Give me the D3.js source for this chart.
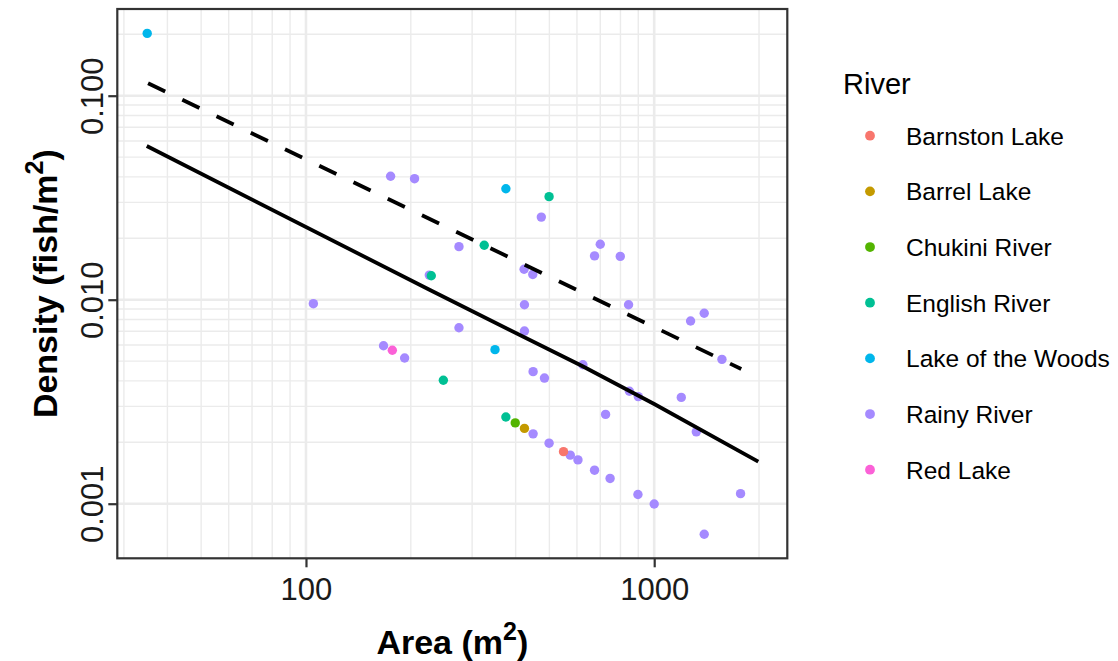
<!DOCTYPE html>
<html>
<head>
<meta charset="utf-8">
<script src="https://cdn.jsdelivr.net/npm/d3@7"></script>
<style>
  html, body { margin: 0; padding: 0; background: #ffffff; }
  svg { display: block; font-family: "Liberation Sans", Arial, sans-serif; }
</style>
</head>
<body>
<svg id="chart" width="1118" height="661"></svg>
<script>
// ---------------- data ----------------
const categories = ["Barnston Lake", "Barrel Lake", "Chukini River", "English River",
                    "Lake of the Woods", "Rainy River", "Red Lake"];
const categoryColors = ["#F8766D", "#C49A00", "#53B400", "#00C094", "#00B6EB", "#A58AFF", "#FB61D7"];

// points: area (m2), density (fish/m2), river
const rainyArea    = [175, 205, 226, 474, 275, 423, 448, 700, 674, 799, 105, 167, 192, 424, 275, 424,
                      449, 484, 624, 844, 1272, 1392, 1565, 849, 900, 1196, 725, 1321, 449, 499, 574,
                      604, 674, 747, 898, 1000, 1770, 1392];
const rainyDensity = [0.0403, 0.0392, 0.0132, 0.0254, 0.0182, 0.0141, 0.0133, 0.0187, 0.0164, 0.0163,
                      0.00956, 0.00595, 0.00518, 0.00945, 0.00729, 0.00702, 0.00444, 0.00413, 0.0048,
                      0.00945, 0.00786, 0.00858, 0.0051, 0.00356, 0.00335, 0.00332, 0.00274, 0.00225,
                      0.0022, 0.00198, 0.00173, 0.00164, 0.00146, 0.00133, 0.00111, 0.000997, 0.00112,
                      0.000708];
const woodsArea    = [35, 375, 349];
const woodsDensity = [0.202, 0.035, 0.00569];
const englishArea    = [229, 499, 325, 248, 375];
const englishDensity = [0.0131, 0.032, 0.0185, 0.00403, 0.00266];
const chukiniArea = [399],  chukiniDensity = [0.00249];
const barrelArea  = [424],  barrelDensity  = [0.00234];
const barnstonArea = [549], barnstonDensity = [0.0018];
const redArea     = [177],  redDensity     = [0.00565];

// fitted lines
const solidArea     = [34.9, 227, 621, 1000, 1990];
const solidDensity  = [0.0567, 0.01115, 0.00473, 0.00308, 0.001607];
const dashedArea    = [35.2, 1778];
const dashedDensity = [0.115, 0.004574];

// axes
const xDomain = [28.72, 2411];
const yDomain = [0.00054, 0.2661];
const xMajor = [100, 1000];
const xTickLabels = ["100", "1000"];
const xMinor = [30, 40, 50, 60, 70, 80, 90, 200, 300, 400, 500, 600, 700, 800, 900, 2000];
const yMajor = [0.001, 0.01, 0.1];
const yTickLabels = ["0.001", "0.010", "0.100"];
const yMinor = [0.002, 0.003, 0.004, 0.005, 0.006, 0.007, 0.008, 0.009,
                0.02, 0.03, 0.04, 0.05, 0.06, 0.07, 0.08, 0.09, 0.2];

// ---------------- build ----------------
const groups = [
  {river: "Rainy River", area: rainyArea, density: rainyDensity},
  {river: "Lake of the Woods", area: woodsArea, density: woodsDensity},
  {river: "English River", area: englishArea, density: englishDensity},
  {river: "Chukini River", area: chukiniArea, density: chukiniDensity},
  {river: "Barrel Lake", area: barrelArea, density: barrelDensity},
  {river: "Barnston Lake", area: barnstonArea, density: barnstonDensity},
  {river: "Red Lake", area: redArea, density: redDensity}
];
const points = [];
groups.forEach(g => g.area.forEach((a, i) => points.push({area: a, density: g.density[i], river: g.river})));

const panel = {left: 117.3, right: 787.3, top: 9, bottom: 558.3};
const svg = d3.select("#chart");

const x = d3.scaleLog().domain(xDomain).range([panel.left, panel.right]);
const y = d3.scaleLog().domain(yDomain).range([panel.bottom, panel.top]);
const color = d3.scaleOrdinal().domain(categories).range(categoryColors);

// grid
const grid = svg.append("g");
grid.selectAll("line.xmin").data(xMinor).join("line")
  .attr("x1", d => x(d)).attr("x2", d => x(d))
  .attr("y1", panel.top).attr("y2", panel.bottom)
  .attr("stroke", "#EBEBEB").attr("stroke-width", 1.4);
grid.selectAll("line.ymin").data(yMinor).join("line")
  .attr("y1", d => y(d)).attr("y2", d => y(d))
  .attr("x1", panel.left).attr("x2", panel.right)
  .attr("stroke", "#EBEBEB").attr("stroke-width", 1.4);
grid.selectAll("line.xmaj").data(xMajor).join("line")
  .attr("x1", d => x(d)).attr("x2", d => x(d))
  .attr("y1", panel.top).attr("y2", panel.bottom)
  .attr("stroke", "#EBEBEB").attr("stroke-width", 2.6);
grid.selectAll("line.ymaj").data(yMajor).join("line")
  .attr("y1", d => y(d)).attr("y2", d => y(d))
  .attr("x1", panel.left).attr("x2", panel.right)
  .attr("stroke", "#EBEBEB").attr("stroke-width", 2.6);

// points
svg.append("g").selectAll("circle").data(points).join("circle")
  .attr("cx", d => x(d.area)).attr("cy", d => y(d.density))
  .attr("r", 4.7).attr("fill", d => color(d.river));

// fitted lines
const lineGen = d3.line().x(d => x(d[0])).y(d => y(d[1]));
svg.append("path")
  .attr("d", lineGen(solidArea.map((a, i) => [a, solidDensity[i]])))
  .attr("fill", "none").attr("stroke", "#000").attr("stroke-width", 3.8);
svg.append("path")
  .attr("d", lineGen(dashedArea.map((a, i) => [a, dashedDensity[i]])))
  .attr("fill", "none").attr("stroke", "#000").attr("stroke-width", 3.8)
  .attr("stroke-dasharray", "19,19");

// panel border
svg.append("rect")
  .attr("x", panel.left).attr("y", panel.top)
  .attr("width", panel.right - panel.left).attr("height", panel.bottom - panel.top)
  .attr("fill", "none").attr("stroke", "#333333").attr("stroke-width", 2.2);

// x axis
const xAxis = d3.axisBottom(x).tickValues(xMajor)
  .tickFormat((d, i) => xTickLabels[i]).tickSize(9).tickPadding(10);
const gx = svg.append("g").attr("transform", `translate(0,${panel.bottom})`).call(xAxis);
gx.select(".domain").remove();
gx.selectAll(".tick line").attr("stroke", "#333333").attr("stroke-width", 2.2);
gx.selectAll(".tick text").attr("font-size", 31).attr("fill", "#1a1a1a")
  .attr("font-family", "Liberation Sans, Arial, sans-serif")
  .attr("dy", null).attr("y", 41.7);

// y axis
const yAxis = d3.axisLeft(y).tickValues(yMajor)
  .tickFormat((d, i) => yTickLabels[i]).tickSize(9);
const gy = svg.append("g").attr("transform", `translate(${panel.left},0)`).call(yAxis);
gy.select(".domain").remove();
gy.selectAll(".tick line").attr("stroke", "#333333").attr("stroke-width", 2.2);
gy.selectAll(".tick text").attr("font-size", 31).attr("fill", "#1a1a1a")
  .attr("font-family", "Liberation Sans, Arial, sans-serif")
  .attr("x", null).attr("dy", null)
  .attr("text-anchor", "middle")
  .attr("transform", "translate(-14.6,0) rotate(-90)");

// axis titles
const xt = svg.append("text")
  .attr("x", (panel.left + panel.right) / 2).attr("y", 654.3)
  .attr("text-anchor", "middle").attr("font-size", 34).attr("font-weight", "bold").attr("fill", "#000");
xt.append("tspan").text("Area (m");
xt.append("tspan").attr("dy", -14).attr("font-size", 25).text("2");
xt.append("tspan").attr("dy", 14).text(")");

const yt = svg.append("text")
  .attr("transform", `translate(57,${(panel.top + panel.bottom) / 2}) rotate(-90)`)
  .attr("text-anchor", "middle").attr("font-size", 34).attr("font-weight", "bold").attr("fill", "#000");
yt.append("tspan").text("Density (fish/m");
yt.append("tspan").attr("dy", -14).attr("font-size", 25).text("2");
yt.append("tspan").attr("dy", 14).text(")");

// legend
const legend = svg.append("g");
legend.append("text").attr("x", 843).attr("y", 94).attr("font-size", 29).attr("fill", "#000").text("River");
const items = legend.selectAll("g.item").data(categories).join("g")
  .attr("transform", (d, i) => `translate(0,${135.7 + i * 55.67})`);
items.append("circle").attr("cx", 870).attr("cy", 0).attr("r", 4.9).attr("fill", d => color(d));
items.append("text").attr("x", 906).attr("y", 9).attr("font-size", 24.5).attr("fill", "#000").text(d => d);
</script>
</body>
</html>
